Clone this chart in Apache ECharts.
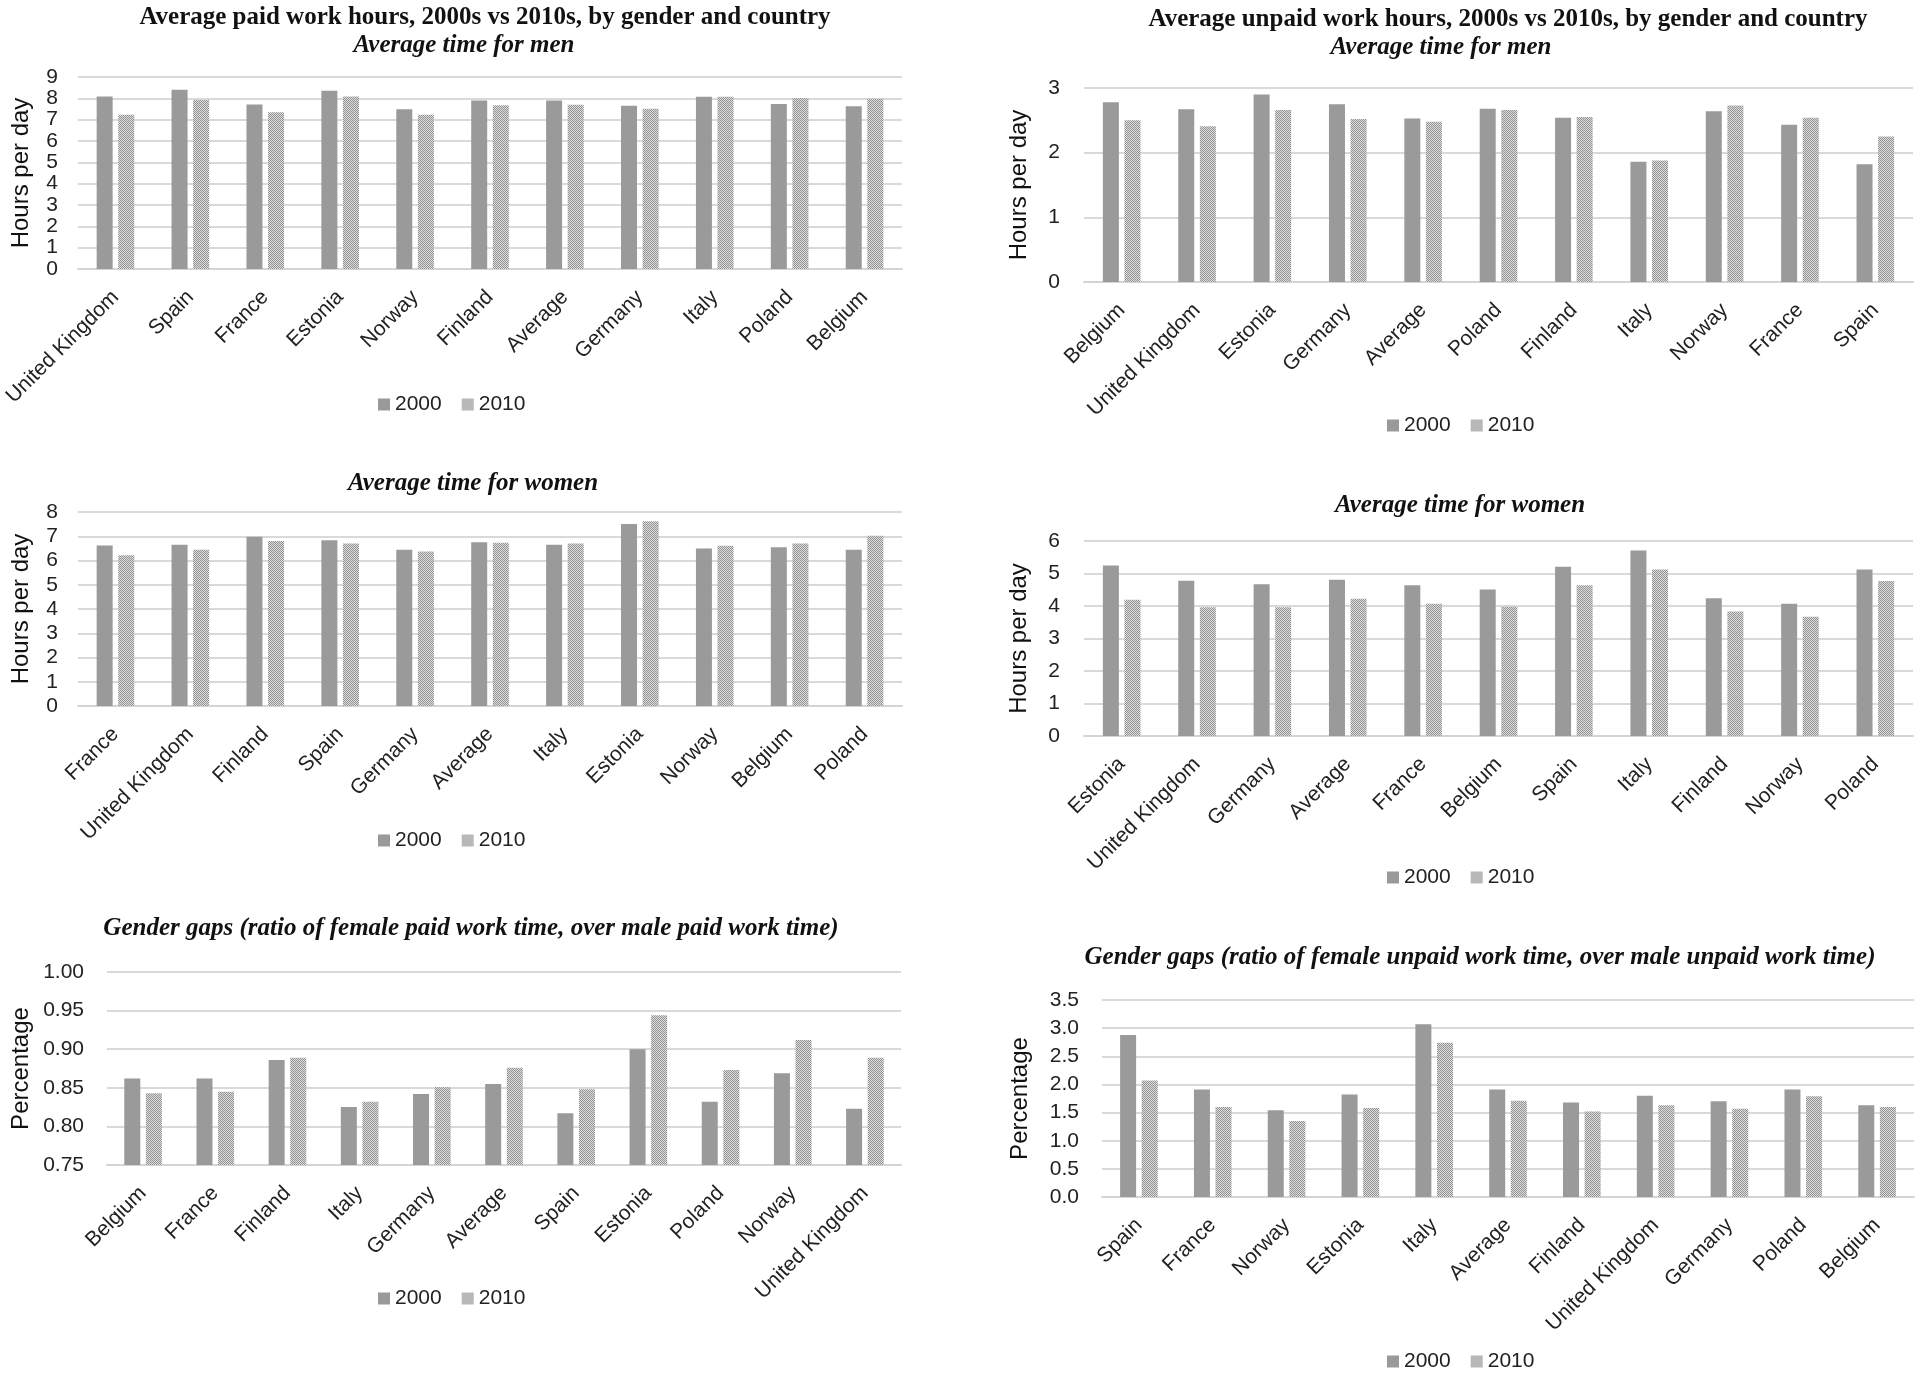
<!DOCTYPE html>
<html><head><meta charset="utf-8">
<script src="https://cdn.jsdelivr.net/npm/echarts@6/dist/echarts.min.js"></script>
<style>html,body{margin:0;padding:0;background:#fff}#c{width:1920px;height:1378px}</style>
</head><body><div id="c"></div>
<script>
// ---- data ----
const catsMenPaid = ['United Kingdom','Spain','France','Estonia','Norway','Finland','Average','Germany','Italy','Poland','Belgium'];
const menPaid2000 = [8.09,8.40,7.71,8.35,7.49,7.90,7.90,7.65,8.07,7.74,7.63];
const menPaid2010 = [7.23,7.92,7.35,8.09,7.23,7.68,7.70,7.51,8.07,8.02,7.98];

const catsMenUnpaid = ['Belgium','United Kingdom','Estonia','Germany','Average','Poland','Finland','Italy','Norway','France','Spain'];
const menUnpaid2000 = [2.78,2.67,2.90,2.75,2.53,2.68,2.54,1.86,2.64,2.43,1.82];
const menUnpaid2010 = [2.50,2.41,2.66,2.52,2.48,2.66,2.55,1.88,2.73,2.54,2.25];

const catsWomenPaid = ['France','United Kingdom','Finland','Spain','Germany','Average','Italy','Estonia','Norway','Belgium','Poland'];
const womenPaid2000 = [6.62,6.65,6.98,6.83,6.44,6.75,6.65,7.51,6.50,6.55,6.44];
const womenPaid2010 = [6.22,6.44,6.80,6.70,6.37,6.73,6.70,7.62,6.61,6.70,7.02];

const catsWomenUnpaid = ['Estonia','United Kingdom','Germany','Average','France','Belgium','Spain','Italy','Finland','Norway','Poland'];
const womenUnpaid2000 = [5.25,4.78,4.67,4.81,4.64,4.51,5.21,5.71,4.24,4.07,5.12];
const womenUnpaid2010 = [4.19,3.96,3.96,4.22,4.07,3.98,4.64,5.12,3.83,3.67,4.77];

const catsGapPaid = ['Belgium','France','Finland','Italy','Germany','Average','Spain','Estonia','Poland','Norway','United Kingdom'];
const gapPaid2000 = [0.862,0.862,0.886,0.825,0.842,0.855,0.817,0.900,0.832,0.869,0.823];
const gapPaid2010 = [0.843,0.845,0.889,0.832,0.851,0.876,0.848,0.944,0.873,0.912,0.889];

const catsGapUnpaid = ['Spain','France','Norway','Estonia','Italy','Average','Finland','United Kingdom','Germany','Poland','Belgium'];
const gapUnpaid2000 = [2.88,1.91,1.54,1.82,3.07,1.91,1.68,1.80,1.70,1.91,1.63];
const gapUnpaid2010 = [2.07,1.60,1.35,1.58,2.74,1.71,1.52,1.63,1.57,1.79,1.60];

const seriesNames = ['2000','2010'];

const mainTitlePaid = 'Average paid work hours, 2000s vs 2010s, by gender and country';
const mainTitleUnpaid = 'Average unpaid work hours, 2000s vs 2010s, by gender and country';
const subMen = 'Average time for men';
const subWomen = 'Average time for women';
const subGapPaid = 'Gender gaps (ratio of female paid work time, over male paid work time)';
const subGapUnpaid = 'Gender gaps (ratio of female unpaid work time, over male unpaid work time)';

// ---- style ----
function makePattern(){
  const c=document.createElement('canvas'); c.width=4; c.height=4;
  const g=c.getContext('2d');
  g.fillStyle='#dedede'; g.fillRect(0,0,4,4);
  g.fillStyle='#929292';
  for(let y=0;y<4;y++)for(let x=0;x<4;x++) if((x+y)%2===0) g.fillRect(x,y,1,1);
  return c;
}
const pat = {image: makePattern(), repeat:'repeat'};
const solid = '#9a9a9a';
const SANS = 'Liberation Sans, Arial, sans-serif';
const SERIF = 'Liberation Serif, Times New Roman, serif';

const panels = [
  {cats:catsMenPaid, a:menPaid2000, b:menPaid2010, grid:{left:78,top:77,width:824,height:192}, min:0,max:9,interval:1,dec:0,name:'Hours per day', nameGap:45, labMargin:20, legend:[373,389]},
  {cats:catsMenUnpaid, a:menUnpaid2000, b:menUnpaid2010, grid:{left:1084,top:88,width:829,height:194}, min:0,max:3,interval:1,dec:0,name:'Hours per day', nameGap:53, labMargin:24, legend:[1382,410]},
  {cats:catsWomenPaid, a:womenPaid2000, b:womenPaid2010, grid:{left:78,top:512,width:824,height:194}, min:0,max:8,interval:1,dec:0,name:'Hours per day', nameGap:45, labMargin:20, legend:[373,825]},
  {cats:catsWomenUnpaid, a:womenUnpaid2000, b:womenUnpaid2010, grid:{left:1084,top:541,width:829,height:195}, min:0,max:6,interval:1,dec:0,name:'Hours per day', nameGap:53, labMargin:24, legend:[1382,862]},
  {cats:catsGapPaid, a:gapPaid2000, b:gapPaid2010, grid:{left:107,top:972,width:794,height:193}, min:0.75,max:1.0,interval:0.05,dec:2,name:'Percentage', nameGap:74, labMargin:23, legend:[373,1283]},
  {cats:catsGapUnpaid, a:gapUnpaid2000, b:gapUnpaid2010, grid:{left:1102,top:1000,width:812,height:197}, min:0,max:3.5,interval:0.5,dec:1,name:'Percentage', nameGap:70, labMargin:23, legend:[1382,1346]}
];

const option = {
  animation:false,
  backgroundColor:'#fff',
  grid: panels.map(p=>p.grid),
  xAxis: panels.map((p,i)=>({
    type:'category', gridIndex:i, data:p.cats,
    axisLine:{show:true,lineStyle:{color:'#d4d4d4',width:2}},
    axisTick:{show:false},
    axisLabel:{rotate:45, interval:0, fontFamily:SANS, fontSize:21, color:'#222', margin:25}
  })),
  yAxis: panels.map((p,i)=>({
    type:'value', gridIndex:i, min:p.min, max:p.max, interval:p.interval,
    name:p.name, nameLocation:'middle', nameRotate:90, nameGap:p.nameGap,
    nameTextStyle:{fontFamily:SANS, fontSize:24, color:'#111'},
    axisLine:{show:false}, axisTick:{show:false},
    splitLine:{lineStyle:{color:'#d9d9d9',width:2}},
    axisLabel:{fontFamily:SANS, fontSize:21, color:'#222', margin:p.labMargin, formatter:v=>v.toFixed(p.dec)}
  })),
  legend: panels.map((p,i)=>({
    data:seriesNames, left:p.legend[0], top:p.legend[1], orient:'horizontal',
    itemWidth:12, itemHeight:12, itemGap:20, icon:'rect',
    textStyle:{fontFamily:SANS, fontSize:21, color:'#222'}
  })),
  series: panels.flatMap((p,i)=>[
    {name:seriesNames[0], type:'bar', xAxisIndex:i, yAxisIndex:i, data:p.a, barWidth:16, barGap:'35%', itemStyle:{color:solid}},
    {name:seriesNames[1], type:'bar', xAxisIndex:i, yAxisIndex:i, data:p.b, barWidth:16, barGap:'35%', itemStyle:{color:pat}}
  ]),
  graphic: [
    [mainTitlePaid, 485, 18, 'bold'],
    [mainTitleUnpaid, 1508, 20, 'bold'],
    [subMen, 464, 46, 'italic'],
    [subMen, 1441, 48, 'italic'],
    [subWomen, 473, 484, 'italic'],
    [subWomen, 1460, 506, 'italic'],
    [subGapPaid, 471, 929, 'italic'],
    [subGapUnpaid, 1480, 958, 'italic']
  ].map(t=>({
    type:'text', x:t[1], y:t[2],
    style:{text:t[0], fill:'#111', align:'center', verticalAlign:'middle',
      font:(t[3]==='bold'?'bold 25px ':'italic bold 25px ')+SERIF}
  }))
};
const chart = echarts.init(document.getElementById('c'));
chart.setOption(option);
</script></body></html>
